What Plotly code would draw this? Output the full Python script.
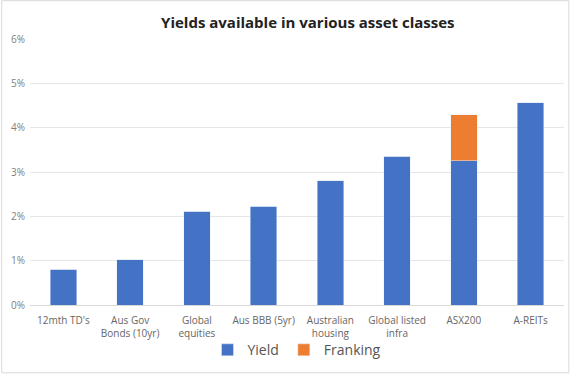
import plotly.graph_objects as go

categories = ["12mth TD's", "Aus Gov<br>Bonds (10yr)", "Global<br>equities", "Aus BBB (5yr)",
              "Australian<br>housing", "Global listed<br>infra", "ASX200", "A-REITs"]
yield_vals = [0.0081, 0.0102, 0.0212, 0.0223, 0.0280, 0.0336, 0.0325, 0.0456]
franking_vals = [0, 0, 0, 0, 0, 0, 0.0104, 0]

fig = go.Figure()
fig.add_bar(x=categories, y=yield_vals, name="Yield", marker_color="#4472C4")
fig.add_bar(x=categories, y=franking_vals, name="Franking", marker_color="#ED7D31")

fig.update_layout(
    barmode="stack",
    width=570, height=374,
    bargap=0.6,
    margin=dict(l=30, r=6, t=39, b=69),
    paper_bgcolor="white", plot_bgcolor="white",
    font=dict(family="Open Sans, sans-serif", color="#666666", size=10),
    title=dict(text="<b>Yields available in various asset classes</b>", x=0.54, xanchor="center",
               y=0.94, yanchor="middle", font=dict(size=15, color="#222222")),
    legend=dict(orientation="h", x=0.5, xanchor="center", y=-0.17, yanchor="middle",
                font=dict(size=14, color="#555555"), traceorder="normal", itemwidth=30,
                bgcolor="rgba(0,0,0,0)"),
    xaxis=dict(showline=True, linecolor="#d9d9d9", tickfont=dict(size=10, color="#666666"),
               automargin=False, ticklabelstandoff=6),
    yaxis=dict(range=[0, 0.06], dtick=0.01, tickformat=".0%", gridcolor="#e6e6e6",
               zeroline=False, tickfont=dict(size=10, color="#808080"), automargin=False,
               ticklabelstandoff=4),
    shapes=[dict(type="rect", xref="paper", yref="paper", x0=-0.053, x1=1.009, y0=-0.255, y1=1.144,
                 line=dict(color="#d9d9d9", width=1))],
)

fig.write_html("out.html", config={"displayModeBar": False},
               post_script="document.body.style.margin='0';")
